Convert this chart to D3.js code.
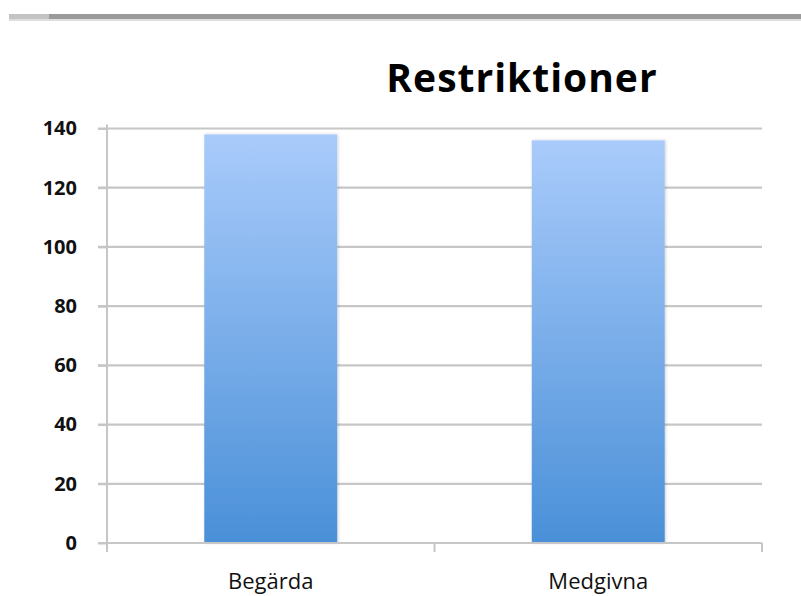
<!DOCTYPE html>
<html>
<head>
<meta charset="utf-8">
<script src="https://cdn.jsdelivr.net/npm/d3@7"></script>
<style>
  body { margin: 0; background: #fff; }
  svg { display: block; font-family: "Open Sans", Lato, sans-serif; }
</style>
</head>
<body>
<svg id="chart" width="801" height="596"></svg>
<script>
const categories = ["Begärda", "Medgivna"];
const values = [138, 136];
const yTicks = [0, 20, 40, 60, 80, 100, 120, 140];
const title = "Restriktioner";

const svg = d3.select("#chart");
const plotL = 107, plotR = 762, plotT = 128.5, plotB = 543;

// grå list överst
svg.append("rect").attr("x", 9).attr("y", 14).attr("width", 792).attr("height", 6).attr("fill", "#9a9a9a");
svg.append("rect").attr("x", 9).attr("y", 14).attr("width", 40).attr("height", 6).attr("fill", "#c4c4c4");
svg.append("rect").attr("x", 9).attr("y", 19).attr("width", 792).attr("height", 2).attr("fill", "#dedede");

const x = d3.scaleBand().domain(categories).range([plotL, plotR]).paddingInner(0.594).paddingOuter(0.297);
const band = d3.scaleBand().domain(categories).range([plotL, plotR]);
const y = d3.scaleLinear().domain([0, 140]).range([plotB, plotT]);

const defs = svg.append("defs");
const grad = defs.append("linearGradient").attr("id", "barGrad").attr("x1", 0).attr("y1", 0).attr("x2", 0).attr("y2", 1);
grad.append("stop").attr("offset", "0%").attr("stop-color", "#a9cbfb");
grad.append("stop").attr("offset", "100%").attr("stop-color", "#4a90d8");
const blur = defs.append("filter").attr("id", "shadow").attr("x", "-10%").attr("y", "-10%").attr("width", "120%").attr("height", "120%");
blur.append("feDropShadow").attr("dx", 1).attr("dy", 0).attr("stdDeviation", 1.5).attr("flood-color", "#000").attr("flood-opacity", 0.18);

// stödlinjer
svg.append("g").selectAll("line").data(yTicks.filter(d => d > 0)).join("line")
  .attr("x1", plotL - 9).attr("x2", plotR)
  .attr("y1", d => y(d)).attr("y2", d => y(d))
  .attr("stroke", "#c6c6c6").attr("stroke-width", 2.2);

// y-axel
const yAxis = svg.append("g").attr("transform", `translate(${plotL},0)`)
  .call(d3.axisLeft(y).tickValues(yTicks).tickSize(9).tickPadding(21));
yAxis.attr("font-family", null);
yAxis.select(".domain").remove();
yAxis.selectAll(".tick line").attr("stroke", "#c6c6c6").attr("stroke-width", 2);
yAxis.selectAll(".tick text").attr("font-size", 20).attr("font-weight", "bold").attr("fill", "#111");
svg.append("line").attr("x1", plotL).attr("x2", plotL).attr("y1", plotT - 4).attr("y2", plotB + 9)
  .attr("stroke", "#c6c6c6").attr("stroke-width", 2);

// staplar
svg.append("g").selectAll("rect").data(categories).join("rect")
  .attr("x", d => x(d)).attr("width", x.bandwidth())
  .attr("y", (d, i) => y(values[i])).attr("height", (d, i) => y(0) - y(values[i]))
  .attr("fill", "url(#barGrad)").attr("filter", "url(#shadow)");

// x-axel
svg.append("line").attr("x1", plotL - 9).attr("x2", plotR).attr("y1", plotB).attr("y2", plotB)
  .attr("stroke", "#c6c6c6").attr("stroke-width", 2.2);
svg.append("g").selectAll("line").data(categories).join("line")
  .attr("x1", d => band(d) + band.bandwidth()).attr("x2", d => band(d) + band.bandwidth())
  .attr("y1", plotB).attr("y2", plotB + 9)
  .attr("stroke", "#c6c6c6").attr("stroke-width", 2);
svg.append("g").selectAll("text").data(categories).join("text")
  .attr("x", d => band(d) + band.bandwidth() / 2).attr("y", 589)
  .attr("text-anchor", "middle").attr("font-size", 22).attr("fill", "#111")
  .text(d => d);

svg.append("text").attr("x", 522).attr("y", 92).attr("text-anchor", "middle")
  .attr("font-size", 39).attr("font-weight", "bold").attr("letter-spacing", 1).attr("fill", "#000").text(title);
</script>
</body>
</html>
